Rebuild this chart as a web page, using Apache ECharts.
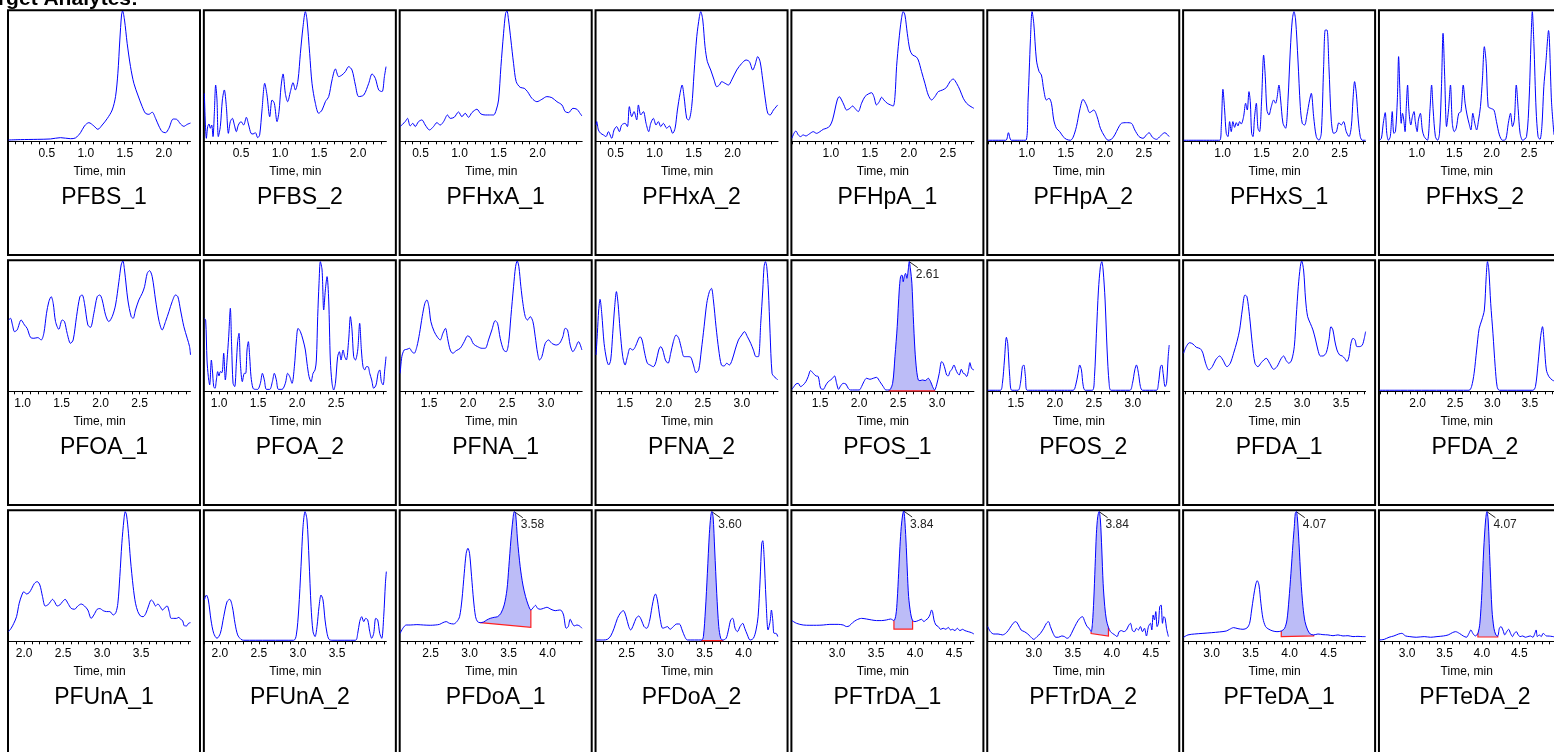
<!DOCTYPE html>
<html><head><meta charset="utf-8">
<script src="https://cdn.jsdelivr.net/npm/echarts@6/dist/echarts.min.js"></script>
<style>html,body{margin:0;padding:0;background:#fff;overflow:hidden}#c{width:1554px;height:752px}</style>
</head><body><div id="c"></div>
<script>
const names = ['PFBS_1','PFBS_2','PFHxA_1','PFHxA_2','PFHpA_1','PFHpA_2','PFHxS_1','PFHxS_2',
  'PFOA_1','PFOA_2','PFNA_1','PFNA_2','PFOS_1','PFOS_2','PFDA_1','PFDA_2',
  'PFUnA_1','PFUnA_2','PFDoA_1','PFDoA_2','PFTrDA_1','PFTrDA_2','PFTeDA_1','PFTeDA_2'];
const xMin = [0.01,0.03,0.24,0.25,0.50,0.50,0.50,0.50, 0.82,0.81,1.13,1.13,1.14,1.14,1.48,1.49, 1.80,1.80,2.11,2.11,2.42,2.41,2.64,2.63];
const xMax = [2.343,2.363,2.573,2.583,2.833,2.833,2.833,2.833, 3.153,3.143,3.463,3.463,3.473,3.473,3.813,3.823, 4.133,4.133,4.443,4.443,4.753,4.743,4.973,4.963];
const tickLabels = [
  [0.5,1.0,1.5,2.0],[0.5,1.0,1.5,2.0],[0.5,1.0,1.5,2.0],[0.5,1.0,1.5,2.0],
  [1.0,1.5,2.0,2.5],[1.0,1.5,2.0,2.5],[1.0,1.5,2.0,2.5],[1.0,1.5,2.0,2.5],
  [1.0,1.5,2.0,2.5],[1.0,1.5,2.0,2.5],[1.5,2.0,2.5,3.0],[1.5,2.0,2.5,3.0],
  [1.5,2.0,2.5,3.0],[1.5,2.0,2.5,3.0],[2.0,2.5,3.0,3.5],[2.0,2.5,3.0,3.5],
  [2.0,2.5,3.0,3.5],[2.0,2.5,3.0,3.5],[2.5,3.0,3.5,4.0],[2.5,3.0,3.5,4.0],
  [3.0,3.5,4.0,4.5],[3.0,3.5,4.0,4.5],[3.0,3.5,4.0,4.5],[3.0,3.5,4.0,4.5]];

const PFBS_1 = [[0.01,1],[0.164,1.3],[0.378,1.5],[0.548,1.8],[0.677,2.8],[0.805,2],[0.869,2.6],[0.933,6.6],[0.984,11.8],[1.04,14.3],[1.104,11.8],[1.155,9.2],[1.211,12.5],[1.275,17.4],[1.339,24],[1.382,34.3],[1.412,52.2],[1.437,77.7],[1.459,96.9],[1.472,100],[1.497,93.1],[1.531,75.2],[1.574,57.3],[1.617,44.5],[1.668,35.5],[1.724,26.6],[1.766,21.5],[1.809,20.7],[1.852,22.3],[1.895,17.6],[1.937,11.8],[1.98,7.4],[2.023,6.6],[2.066,10],[2.121,17.1],[2.164,16.9],[2.215,13.3],[2.258,11.5],[2.301,13],[2.343,14]];
const PFBS_2 = [[0.03,36.8],[0.056,2.3],[0.073,11.3],[0.09,13.3],[0.107,10],[0.124,12.5],[0.141,3.6],[0.158,21.5],[0.175,43.2],[0.192,31.7],[0.209,3.6],[0.235,11.3],[0.261,31.7],[0.286,39.4],[0.312,26.6],[0.338,6.1],[0.363,15.1],[0.389,17.6],[0.415,12.5],[0.44,7.4],[0.466,12.5],[0.5,15.1],[0.534,12.5],[0.568,18.4],[0.598,12.5],[0.628,6.1],[0.654,5.6],[0.684,6.6],[0.714,2.8],[0.739,4.9],[0.769,24],[0.804,44.5],[0.833,35.5],[0.868,18.9],[0.898,31.7],[0.927,29.2],[0.962,15.1],[0.987,22.8],[1.013,41.9],[1.039,51.7],[1.068,36.8],[1.098,30.4],[1.133,38.1],[1.167,45],[1.197,39.4],[1.231,47.1],[1.261,67.5],[1.295,88],[1.325,99.5],[1.346,93.1],[1.38,67.5],[1.41,44.5],[1.453,29.2],[1.496,21.5],[1.539,24],[1.581,30.4],[1.624,34.3],[1.667,47.1],[1.71,55.5],[1.752,49.6],[1.795,50.9],[1.838,53.5],[1.88,57.3],[1.923,54.7],[1.966,43.2],[2.009,34.3],[2.073,35.5],[2.137,44.5],[2.18,51.7],[2.222,48.3],[2.265,39.4],[2.308,38.1],[2.338,49.6],[2.359,57.3]];
const PFHxA_1 = [[0.24,11.3],[0.274,13.3],[0.304,15.1],[0.334,17.6],[0.368,11.8],[0.402,13.8],[0.432,11.3],[0.475,15.1],[0.518,16.4],[0.561,12.5],[0.616,8.7],[0.667,11.3],[0.71,14.3],[0.753,12.5],[0.796,15.1],[0.847,20.2],[0.881,17.6],[0.932,18.4],[0.988,22.5],[1.031,18.9],[1.073,21.5],[1.116,18.4],[1.159,22],[1.223,24.6],[1.274,21],[1.33,20.2],[1.385,20.2],[1.437,20.2],[1.471,24],[1.501,31.7],[1.531,57.3],[1.565,82.9],[1.591,98.2],[1.608,100],[1.629,93.1],[1.659,77.7],[1.693,59.8],[1.727,45.8],[1.778,41.4],[1.83,40.7],[1.872,38.1],[1.928,33],[1.992,30.4],[2.056,32.2],[2.12,34.3],[2.184,33.5],[2.249,30.4],[2.313,27.9],[2.355,22.8],[2.398,22],[2.454,25.3],[2.505,24.6],[2.539,22],[2.569,19.4]];
const PFHxA_2 = [[0.25,12.5],[0.259,15.1],[0.28,8.7],[0.31,6.1],[0.344,4.9],[0.378,3.6],[0.408,7.4],[0.451,2.3],[0.481,8.7],[0.515,11.3],[0.549,7.4],[0.579,12.5],[0.622,13.8],[0.652,11.3],[0.677,26.6],[0.707,18.9],[0.737,22.8],[0.771,16.4],[0.793,27.9],[0.823,20.2],[0.857,22.8],[0.891,13.8],[0.925,7.4],[0.951,13.8],[0.985,17.6],[1.019,12.5],[1.049,15.1],[1.079,11.3],[1.113,13.8],[1.156,10],[1.19,11.8],[1.233,6.1],[1.263,10],[1.293,24],[1.327,36.8],[1.353,43.2],[1.378,34.3],[1.412,17.6],[1.438,16.4],[1.476,26.6],[1.506,52.2],[1.541,80.3],[1.575,95.7],[1.592,99.5],[1.618,93.1],[1.647,72.6],[1.677,61.1],[1.72,54.7],[1.763,47.1],[1.797,41.9],[1.831,43.2],[1.861,45.8],[1.904,44.5],[1.947,43.2],[1.989,47.1],[2.053,54.7],[2.118,59.8],[2.173,62.4],[2.216,61.1],[2.259,54.7],[2.288,58.6],[2.323,65],[2.353,61.1],[2.387,47.1],[2.421,31.7],[2.451,21.5],[2.481,20.2],[2.524,24],[2.579,27.9]];
const PFHpA_1 = [[0.5,2.3],[0.526,6.1],[0.551,7.9],[0.581,4.9],[0.611,3.6],[0.645,4.9],[0.679,4.1],[0.722,5.6],[0.774,7.4],[0.816,6.1],[0.859,7.4],[0.902,9.2],[0.944,10],[0.987,11.8],[1.021,16.4],[1.051,24],[1.081,31.7],[1.107,34.3],[1.137,31.7],[1.167,27.9],[1.201,24],[1.244,25.3],[1.278,27.1],[1.308,25.3],[1.35,22.8],[1.393,29.2],[1.436,34.3],[1.479,36.3],[1.521,37.3],[1.551,34.3],[1.585,27.9],[1.62,30.4],[1.65,33.8],[1.679,31.7],[1.722,29.2],[1.765,27.9],[1.799,27.1],[1.821,34.3],[1.842,57.3],[1.872,77.7],[1.902,93.1],[1.927,99.5],[1.949,96.9],[1.979,82.9],[2.013,70.1],[2.047,66.2],[2.09,65],[2.12,62.4],[2.162,53.5],[2.205,44.5],[2.248,35.5],[2.291,31.7],[2.333,34.3],[2.376,38.1],[2.432,39.4],[2.483,41.4],[2.526,45.8],[2.568,47.8],[2.611,44.5],[2.654,39.4],[2.697,33],[2.739,29.2],[2.782,27.1],[2.833,25.3]];
const PFHpA_2 = [[0.5,0.8],[0.731,0.8],[0.765,6.6],[0.803,0.8],[0.987,0.8],[1.017,31.7],[1.047,77.7],[1.068,99.5],[1.09,90.5],[1.124,62.4],[1.158,53.5],[1.188,50.9],[1.218,39.4],[1.252,31.7],[1.286,33],[1.316,29.2],[1.346,16.4],[1.38,10],[1.423,7.4],[1.466,3.6],[1.509,1.5],[1.56,0.8],[1.594,3.1],[1.637,11.3],[1.679,24],[1.722,32.2],[1.765,27.9],[1.808,22],[1.859,24],[1.902,18.9],[1.944,10],[2.0,3.6],[2.043,0.8],[2.085,1.5],[2.128,4.9],[2.171,10],[2.214,13.8],[2.278,14.3],[2.342,13.8],[2.385,8.7],[2.44,3.6],[2.491,2.3],[2.534,4.9],[2.568,6.6],[2.611,3.1],[2.662,1.5],[2.714,4.1],[2.769,6.6],[2.825,3.6]];
const PFHxS_1 = [[0.5,0.8],[0.962,0.8],[0.983,11.3],[1.004,39.9],[1.026,24],[1.047,6.1],[1.068,3.6],[1.09,15.1],[1.111,7.4],[1.132,15.1],[1.154,10.7],[1.175,14.3],[1.197,11.8],[1.218,15.1],[1.239,13.3],[1.269,18.9],[1.295,29.2],[1.316,24],[1.338,38.1],[1.355,30.4],[1.372,6.1],[1.389,3.6],[1.41,18.9],[1.432,29.2],[1.453,10],[1.474,7.4],[1.5,31.7],[1.526,66.2],[1.547,49.6],[1.568,24],[1.594,20.2],[1.624,26.6],[1.654,31.7],[1.679,29.2],[1.697,33],[1.722,43.2],[1.744,31.7],[1.774,13.8],[1.808,10],[1.838,31.7],[1.868,70.1],[1.893,93.1],[1.915,99.5],[1.936,93.1],[1.966,62.4],[1.996,26.6],[2.021,13.8],[2.051,12.5],[2.081,20.2],[2.115,31.7],[2.137,36.8],[2.167,18.9],[2.201,3.6],[2.235,0.8],[2.265,6.1],[2.295,57.3],[2.316,85.4],[2.338,85.4],[2.363,57.3],[2.393,16.4],[2.423,6.1],[2.457,7.2],[2.491,14.3],[2.521,12.5],[2.551,15.1],[2.585,7.4],[2.62,3.6],[2.65,11.3],[2.671,31.7],[2.692,45.8],[2.714,36.8],[2.739,16.4],[2.765,3.6],[2.791,0.8],[2.833,0.8]];
const PFHxS_2 = [[0.5,0.8],[0.526,2.3],[0.551,13.8],[0.577,22],[0.598,6.1],[0.62,0.8],[0.645,3.6],[0.671,22.8],[0.692,6.1],[0.714,7.4],[0.739,31.7],[0.756,65],[0.774,36.8],[0.791,13.8],[0.808,21.5],[0.825,16.4],[0.842,7.4],[0.859,26.6],[0.876,43.2],[0.893,24],[0.919,12.5],[0.94,18.9],[0.962,22.8],[0.979,15.1],[1.004,7.4],[1.021,16.4],[1.047,21.5],[1.073,8.7],[1.098,3.6],[1.141,0.8],[1.175,24],[1.197,43.2],[1.218,24],[1.248,3.6],[1.278,0.8],[1.303,6.1],[1.329,41.9],[1.35,82.9],[1.372,49.6],[1.397,11.3],[1.423,24],[1.449,43.2],[1.474,13.8],[1.5,7.4],[1.526,10],[1.56,21.5],[1.59,22.8],[1.62,43.2],[1.645,29.2],[1.671,20.2],[1.697,13.8],[1.722,8.7],[1.748,21.5],[1.774,13.8],[1.799,8.7],[1.825,16.4],[1.85,26.6],[1.876,47.1],[1.902,72.6],[1.927,59.8],[1.953,26.6],[1.987,25.3],[2.03,24],[2.064,15.1],[2.103,4.9],[2.145,0.8],[2.188,1.5],[2.222,13.8],[2.252,21.5],[2.278,11.3],[2.303,16.4],[2.329,43.2],[2.355,24],[2.38,6.1],[2.415,0.8],[2.466,3.6],[2.5,31.7],[2.526,77.7],[2.543,99.5],[2.564,75.2],[2.594,24],[2.62,3.6],[2.645,1.5],[2.671,11.3],[2.697,41.9],[2.722,58.6],[2.76,85],[2.8,30],[2.833,5]];
const PFOA_1 = [[0.82,54.7],[0.846,56],[0.871,50.9],[0.897,45.8],[0.931,47.1],[0.982,54.7],[1.025,50.9],[1.059,48.3],[1.102,41.4],[1.145,40.7],[1.196,41.2],[1.239,39.4],[1.273,44.5],[1.307,59.8],[1.337,68.8],[1.367,72.6],[1.393,67.5],[1.423,53.5],[1.465,47.6],[1.508,54.7],[1.538,53.5],[1.572,44.5],[1.615,36.8],[1.649,39.4],[1.692,57.3],[1.735,72.6],[1.764,73.9],[1.794,67.5],[1.837,50.9],[1.871,49.1],[1.914,59.8],[1.957,72.6],[1.991,73.9],[2.021,70.1],[2.064,58.6],[2.106,53.5],[2.149,57.3],[2.192,66.2],[2.235,84.1],[2.264,96.9],[2.286,100],[2.307,93.1],[2.35,70.1],[2.393,57.3],[2.418,56],[2.448,62.4],[2.491,70.1],[2.534,75.2],[2.564,80.3],[2.598,90.5],[2.628,92.6],[2.662,88],[2.705,70.1],[2.747,54.7],[2.79,47.1],[2.833,53.5],[2.876,61.1],[2.918,68.8],[2.961,73.9],[2.991,72.6],[3.025,62.4],[3.068,49.6],[3.111,40.7],[3.141,34.3],[3.153,27.9]];
const PFOA_2 = [[0.81,56],[0.827,54.7],[0.844,24],[0.861,11.3],[0.878,4.9],[0.9,24],[0.913,16.4],[0.93,3.6],[0.947,2.3],[0.964,8.7],[0.981,15.1],[0.998,11.8],[1.015,15.1],[1.036,14.3],[1.058,29.2],[1.079,8.7],[1.101,24],[1.122,41.9],[1.143,63.7],[1.16,34.3],[1.178,6.1],[1.199,3.6],[1.22,21.5],[1.237,38.1],[1.254,44.5],[1.272,21.5],[1.297,7.4],[1.323,13.8],[1.34,13.8],[1.357,31.7],[1.374,38.1],[1.391,26.6],[1.408,11.3],[1.434,2.3],[1.464,1.5],[1.494,1.5],[1.528,6.1],[1.554,13.8],[1.579,8.7],[1.605,1.5],[1.648,1.5],[1.682,7.4],[1.707,13.8],[1.733,8.7],[1.759,1.5],[1.806,1.5],[1.848,6.1],[1.878,13.8],[1.904,11.3],[1.934,6.1],[1.964,18.9],[1.99,39.4],[2.011,48.3],[2.041,45.8],[2.075,39.4],[2.105,31.7],[2.126,21.5],[2.152,11.3],[2.178,7.4],[2.203,13.8],[2.229,16.4],[2.246,24],[2.263,57.3],[2.28,82.9],[2.297,99.5],[2.319,93.1],[2.34,62.4],[2.361,77.7],[2.383,88],[2.404,70.1],[2.425,24],[2.447,6.1],[2.468,1],[2.49,6.1],[2.519,26.6],[2.541,30.4],[2.562,24],[2.588,31.7],[2.609,26.6],[2.63,24],[2.66,39.4],[2.682,57.3],[2.703,47.1],[2.724,26.6],[2.746,24],[2.776,31.7],[2.801,52.2],[2.823,31.7],[2.844,18.9],[2.866,16.4],[2.887,18.9],[2.908,18.9],[2.93,13.8],[2.955,8.7],[2.981,2.3],[3.011,4.9],[3.037,13.8],[3.058,16.4],[3.079,7.4],[3.101,4.9],[3.122,16.4],[3.139,26.6]];
const PFNA_1 = [[1.13,13.8],[1.151,26.6],[1.181,31.7],[1.215,32.2],[1.25,33],[1.28,30.4],[1.309,29.2],[1.344,34.3],[1.378,44.5],[1.412,57.3],[1.446,67.5],[1.472,70.1],[1.498,65],[1.523,53.5],[1.566,45.8],[1.609,41.4],[1.643,39.4],[1.677,44.5],[1.711,48.3],[1.737,40.7],[1.771,31.7],[1.805,29.2],[1.848,31.2],[1.899,33],[1.951,38.1],[1.993,42.5],[2.027,41.4],[2.07,36.3],[2.121,34.3],[2.177,33],[2.22,33],[2.262,39.4],[2.305,47.1],[2.348,54.2],[2.378,52.2],[2.412,40.7],[2.455,31.7],[2.489,30.4],[2.519,36.8],[2.549,57.3],[2.583,80.3],[2.609,95.7],[2.63,100],[2.651,95.7],[2.677,80.3],[2.703,67.5],[2.733,57.3],[2.762,54.7],[2.797,57.3],[2.831,53.5],[2.861,41.9],[2.891,29.2],[2.916,24],[2.946,26.6],[2.989,36.8],[3.032,39.4],[3.074,36.8],[3.13,35.5],[3.173,36.8],[3.215,41.9],[3.245,48.3],[3.275,47.1],[3.309,35.5],[3.344,30.4],[3.374,33],[3.416,38.1],[3.459,31.7]];
const PFNA_2 = [[1.13,27.9],[1.147,44.5],[1.164,62.4],[1.181,70.6],[1.203,59.8],[1.233,36.8],[1.267,24],[1.292,20.2],[1.318,24],[1.344,44.5],[1.369,65],[1.391,76.5],[1.412,67.5],[1.438,47.1],[1.472,26.6],[1.502,20.2],[1.532,26.6],[1.566,33],[1.6,31.7],[1.634,34.3],[1.668,39.4],[1.694,41.9],[1.72,39.4],[1.754,29.2],[1.788,21.5],[1.822,20.2],[1.865,18.9],[1.899,22.8],[1.933,31.7],[1.959,34.3],[1.985,31.7],[2.019,24],[2.053,21.5],[2.087,29.2],[2.121,38.1],[2.156,43.2],[2.19,40.7],[2.224,33],[2.258,26.6],[2.301,26.6],[2.344,26.1],[2.378,20.2],[2.412,14.3],[2.446,16.4],[2.48,31.7],[2.515,49.6],[2.549,67.5],[2.583,76.5],[2.609,79],[2.634,70.1],[2.668,49.6],[2.703,31.7],[2.737,20.2],[2.771,19.4],[2.805,21.5],[2.839,20.2],[2.874,24],[2.912,31.7],[2.955,39.4],[2.998,43.2],[3.032,45.8],[3.07,41.9],[3.113,36.8],[3.147,31.7],[3.181,26.6],[3.211,26.6],[3.241,52.2],[3.267,77.7],[3.284,95.7],[3.301,99.5],[3.318,95.7],[3.339,77.7],[3.361,44.5],[3.386,13.8],[3.412,11.3],[3.438,10],[3.459,8.7]];
const PFOS_1 = [[1.14,1.5],[1.166,3.6],[1.191,5.6],[1.221,6.1],[1.251,3.6],[1.285,4.9],[1.319,7.4],[1.349,11.3],[1.379,15.9],[1.414,13.8],[1.448,11.8],[1.478,11.3],[1.508,2.3],[1.542,1.5],[1.576,4.9],[1.606,7.4],[1.636,8.7],[1.661,10],[1.687,11.8],[1.713,6.1],[1.738,1.5],[1.764,4.1],[1.798,6.1],[1.832,5.6],[1.862,2.3],[1.892,1],[1.948,1],[2.003,1],[2.033,3.6],[2.063,7.4],[2.097,10],[2.14,9.2],[2.183,10],[2.225,10.7],[2.268,7.4],[2.311,3.6],[2.345,1],[2.388,1],[2.431,6.1],[2.461,26.6],[2.49,49.6],[2.516,77.7],[2.533,88],[2.55,89.3],[2.567,84.1],[2.58,88],[2.597,90.5],[2.614,86.7],[2.631,93.1],[2.644,99.5],[2.661,93.1],[2.678,82.9],[2.696,57.3],[2.717,31.7],[2.738,16.4],[2.76,8.7],[2.781,8.2],[2.815,8.7],[2.849,8.2],[2.888,10],[2.918,7.4],[2.943,3.6],[2.969,1],[2.995,4.9],[3.029,13.8],[3.059,22.8],[3.08,21.5],[3.106,16.4],[3.123,12.5],[3.144,11.8],[3.166,15.1],[3.191,16.9],[3.217,20.2],[3.243,16.4],[3.264,13.8],[3.285,12.5],[3.311,16.9],[3.337,13.8],[3.358,13.3],[3.379,11.3],[3.401,15.1],[3.422,22],[3.443,17.6],[3.473,16.4]];
const PFOS_2 = [[1.14,0.8],[1.302,0.8],[1.328,6.1],[1.354,24],[1.379,41.4],[1.396,36.8],[1.422,11.3],[1.448,0.8],[1.529,0.8],[1.559,6.1],[1.584,18.9],[1.602,20.2],[1.623,11.3],[1.644,0.8],[2.234,0.8],[2.268,4.9],[2.298,13.8],[2.319,20.2],[2.341,16.4],[2.362,4.9],[2.388,0.8],[2.482,0.8],[2.508,11.3],[2.533,44.5],[2.559,77.7],[2.584,95.7],[2.602,99.5],[2.619,93.1],[2.644,70.1],[2.67,31.7],[2.696,6.1],[2.721,0.8],[2.961,0.8],[2.995,6.1],[3.025,16.4],[3.046,20.2],[3.072,13.8],[3.097,3.6],[3.123,0.8],[3.302,0.8],[3.328,6.1],[3.354,18.9],[3.371,20.2],[3.388,13.8],[3.414,3.6],[3.432,6.1],[3.453,26.6],[3.466,35.5]];
const PFDA_1 = [[1.48,29.2],[1.514,34.3],[1.557,37.3],[1.6,36.3],[1.642,33.8],[1.694,32.7],[1.728,29.2],[1.762,21.5],[1.805,16.4],[1.848,18.9],[1.89,24],[1.942,27.1],[1.984,24],[2.036,18.9],[2.078,21.5],[2.121,29.2],[2.164,38.1],[2.198,47.1],[2.232,62.4],[2.266,73.9],[2.292,72.6],[2.326,57.3],[2.36,36.8],[2.395,21.5],[2.433,18.9],[2.476,22],[2.54,25.3],[2.583,21.5],[2.634,16.9],[2.677,18.9],[2.732,25.3],[2.762,27.1],[2.796,23.5],[2.83,21.5],[2.865,24],[2.899,34.3],[2.924,57.3],[2.95,80.3],[2.976,95.7],[2.993,100],[3.018,93.1],[3.044,70.1],[3.07,57.3],[3.104,52.2],[3.138,47.1],[3.172,39.4],[3.202,31.7],[3.232,27.1],[3.266,27.1],[3.309,29.7],[3.343,39.4],[3.369,49.6],[3.394,47.1],[3.416,39.4],[3.446,31.7],[3.48,27.9],[3.514,27.1],[3.544,25.3],[3.574,22.8],[3.6,26.6],[3.625,36.8],[3.651,40.7],[3.677,39.4],[3.702,34.3],[3.736,34.3],[3.771,35.5],[3.796,40.7],[3.813,45.8]];
const PFDA_2 = [[1.49,0.8],[2.687,0.8],[2.721,3.6],[2.755,13.8],[2.789,31.7],[2.823,48.3],[2.858,54.7],[2.892,62.4],[2.917,88],[2.934,99.5],[2.952,93.1],[2.977,67.5],[3.007,44.5],[3.037,18.9],[3.063,3.6],[3.093,0.8],[3.541,0.8],[3.575,3.6],[3.61,21.5],[3.644,41.9],[3.669,49.6],[3.695,34.3],[3.721,16.4],[3.755,11.3],[3.798,8.7],[3.823,8]];
const PFUnA_1 = [[1.8,7.4],[1.834,10],[1.868,13.8],[1.903,18.9],[1.937,29.2],[1.971,35.5],[1.997,38.1],[2.031,36.3],[2.065,37.3],[2.099,40.7],[2.133,44.5],[2.168,45.8],[2.202,43.2],[2.236,34.3],[2.27,27.1],[2.304,27.9],[2.338,30.4],[2.364,32.2],[2.39,30.4],[2.424,27.1],[2.458,27.9],[2.492,30.4],[2.526,32.2],[2.561,29.2],[2.603,25.3],[2.646,24.6],[2.689,27.1],[2.732,28.6],[2.774,27.1],[2.817,24],[2.86,17.6],[2.894,20.2],[2.937,24.6],[2.971,25.1],[3.014,23.5],[3.056,22.8],[3.099,22.8],[3.142,20.2],[3.176,22],[3.202,29.2],[3.227,49.6],[3.253,75.2],[3.279,93.1],[3.296,99.5],[3.313,96.9],[3.338,82.9],[3.364,62.4],[3.398,41.9],[3.428,29.2],[3.458,22.8],[3.492,19.4],[3.526,18.9],[3.561,21.5],[3.595,27.1],[3.629,31.7],[3.655,30.4],[3.685,27.1],[3.715,28.6],[3.749,26.1],[3.774,24],[3.809,26.1],[3.834,27.1],[3.86,22.8],[3.885,17.6],[3.92,17.6],[3.954,17.6],[3.984,18.4],[4.005,16.9],[4.031,15.9],[4.056,11.8],[4.082,11.8],[4.108,13.8],[4.133,14.3]];
const PFUnA_2 = [[1.8,31.7],[1.826,35.5],[1.851,31.7],[1.885,16.4],[1.92,6.1],[1.962,2.3],[2.005,6.1],[2.048,18.9],[2.091,30.4],[2.125,32.2],[2.159,26.6],[2.193,13.8],[2.227,4.9],[2.27,1.5],[2.304,0.8],[2.945,0.8],[2.979,4.9],[3.009,24],[3.039,57.3],[3.065,88],[3.091,99.5],[3.116,93.1],[3.142,62.4],[3.168,26.6],[3.193,7.4],[3.219,3.6],[3.244,11.3],[3.27,26.6],[3.296,35.5],[3.321,31.7],[3.347,16.4],[3.373,6.1],[3.398,1.5],[3.437,0.8],[3.736,0.8],[3.766,6.1],[3.791,15.1],[3.817,18.9],[3.843,15.1],[3.868,17.6],[3.894,16.4],[3.92,7.4],[3.945,2.3],[3.971,6.1],[3.997,17.6],[4.022,16.4],[4.048,6.1],[4.074,2.3],[4.099,18.9],[4.121,44.5],[4.133,53.5]];
const PFDoA_1 = [[2.11,6.1],[2.144,10],[2.187,12.5],[2.238,12.5],[2.324,12.8],[2.409,12.5],[2.495,12.3],[2.559,12.5],[2.614,13],[2.657,14.3],[2.7,15.1],[2.742,13.8],[2.794,13.3],[2.836,15.1],[2.871,18.9],[2.901,31.7],[2.931,52.2],[2.956,67.5],[2.978,71.4],[2.999,67.5],[3.025,49.6],[3.05,31.7],[3.076,18.9],[3.101,15.1],[3.136,14.3],[3.178,14.8],[3.221,16.4],[3.264,17.6],[3.315,18.4],[3.358,18.9],[3.401,21.5],[3.443,27.9],[3.478,39.4],[3.503,57.3],[3.529,77.7],[3.554,93.1],[3.572,99.5],[3.589,98.2],[3.614,77.7],[3.648,57.3],[3.683,43.2],[3.717,34.3],[3.751,27.9],[3.785,24],[3.819,26.1],[3.845,27.6],[3.871,25.3],[3.905,24.6],[3.948,25.3],[3.99,26.1],[4.042,24.6],[4.097,23.5],[4.153,24],[4.178,23.5],[4.204,20.2],[4.238,10],[4.264,11.3],[4.289,16.9],[4.315,13.8],[4.341,11.8],[4.375,12.5],[4.409,11.8],[4.439,10]];
const PFDoA_2 = [[2.11,1],[2.204,1],[2.255,1.5],[2.298,4.1],[2.341,10],[2.384,17.6],[2.426,22],[2.46,23.5],[2.495,18.9],[2.529,11.3],[2.554,8.7],[2.589,12.5],[2.623,17.6],[2.657,19.4],[2.691,16.4],[2.725,11.3],[2.76,10],[2.794,15.1],[2.828,26.6],[2.854,34.3],[2.871,36.3],[2.896,31.7],[2.931,17.6],[2.965,10],[2.999,10.7],[3.025,11.3],[3.059,9.2],[3.101,11.3],[3.144,13.3],[3.178,13.3],[3.213,8.7],[3.247,3.6],[3.281,1],[3.465,1],[3.486,3.6],[3.512,24],[3.537,52.2],[3.563,82.9],[3.58,95.7],[3.593,99.5],[3.61,95.7],[3.631,70.1],[3.657,36.8],[3.683,11.3],[3.708,2.3],[3.734,1],[3.777,2.3],[3.807,8.7],[3.836,16.4],[3.862,17.6],[3.892,10],[3.922,7.4],[3.956,11.3],[3.99,13.8],[4.016,10],[4.05,4.9],[4.084,1],[4.127,2.3],[4.161,8.7],[4.187,18.9],[4.213,47.1],[4.234,75.2],[4.247,77.2],[4.264,65],[4.289,31.7],[4.315,8.7],[4.341,15.1],[4.358,24],[4.375,16.4],[4.392,6.1],[4.418,6.1],[4.439,3.6]];
const PFTrDA_1 = [[2.42,15.9],[2.48,13.8],[2.565,12.5],[2.651,12.3],[2.736,12.3],[2.822,12.5],[2.907,13],[3.014,13],[3.078,12.5],[3.121,11.3],[3.155,11.8],[3.198,14.3],[3.249,16.4],[3.313,17.6],[3.377,17.1],[3.441,16.4],[3.505,15.9],[3.57,15.9],[3.634,16.4],[3.685,17.1],[3.728,15.9],[3.753,20.2],[3.77,31.7],[3.788,52.2],[3.805,72.6],[3.822,88],[3.839,96.9],[3.852,100],[3.864,95.7],[3.882,77.7],[3.899,54.7],[3.916,34.3],[3.942,21.5],[3.967,15.9],[3.997,15.1],[4.04,15.9],[4.082,16.9],[4.112,15.1],[4.138,16.4],[4.164,17.6],[4.189,20.2],[4.211,24],[4.223,22.8],[4.241,16.4],[4.266,12.5],[4.296,11.3],[4.326,9.2],[4.36,10],[4.394,9.2],[4.424,10.7],[4.454,8.7],[4.48,9.2],[4.51,8.2],[4.54,10],[4.574,8.2],[4.608,9.2],[4.638,8.2],[4.681,7.4],[4.723,6.6],[4.753,5.6]];
const PFTrDA_2 = [[2.41,11.3],[2.444,7.4],[2.487,5.6],[2.542,5.6],[2.598,4.9],[2.649,6.6],[2.692,10],[2.735,13.8],[2.769,15.1],[2.803,12.5],[2.837,8.7],[2.88,7.4],[2.923,5.6],[2.957,3.6],[3.0,1.5],[3.042,3.6],[3.085,6.1],[3.128,10],[3.162,13.8],[3.188,15.1],[3.213,11.3],[3.248,6.1],[3.282,3.1],[3.316,3.1],[3.359,4.1],[3.393,3.6],[3.427,2.3],[3.461,3.6],[3.504,8.7],[3.547,13.8],[3.589,17.6],[3.624,18.9],[3.654,15.1],[3.683,11.3],[3.709,10],[3.735,7.4],[3.752,13.8],[3.769,31.7],[3.786,57.3],[3.803,82.9],[3.82,95.7],[3.837,99.5],[3.854,93.1],[3.872,70.1],[3.889,44.5],[3.91,26.6],[3.931,16.4],[3.957,10.7],[3.983,7.4],[4.008,6.1],[4.038,4.9],[4.068,3.6],[4.094,7.4],[4.124,8.2],[4.154,7.4],[4.188,8.7],[4.213,11.8],[4.239,13.8],[4.265,8.2],[4.29,7.4],[4.316,10],[4.342,8.7],[4.367,11.3],[4.393,7.4],[4.419,10],[4.444,4.1],[4.47,11.3],[4.495,13.8],[4.513,8.7],[4.53,20.2],[4.547,16.4],[4.564,22.8],[4.581,11.3],[4.598,13.8],[4.615,26.6],[4.632,27.9],[4.65,13.8],[4.667,18.9],[4.684,17.6],[4.701,10],[4.726,3.6]];
const PFTeDA_1 = [[2.64,3.1],[2.696,4.9],[2.781,5.6],[2.888,6.1],[2.995,6.6],[3.102,7.2],[3.187,7.9],[3.23,9.2],[3.281,10.5],[3.337,9.7],[3.401,9.2],[3.452,10.2],[3.486,13.8],[3.512,24],[3.537,34.3],[3.563,43.2],[3.584,46.5],[3.606,43.2],[3.631,29.2],[3.657,17.6],[3.691,11.3],[3.734,9.2],[3.785,7.9],[3.837,7.4],[3.892,7.9],[3.935,10],[3.965,16.4],[3.99,31.7],[4.016,52.2],[4.042,75.2],[4.059,88],[4.072,98.2],[4.084,99.5],[4.097,95.7],[4.119,75.2],[4.144,47.1],[4.17,26.6],[4.196,15.1],[4.23,8.7],[4.264,5.6],[4.307,4.9],[4.362,5.6],[4.426,5.1],[4.49,4.9],[4.555,4.3],[4.619,4.9],[4.683,4.1],[4.747,4.3],[4.811,3.6],[4.875,3.8],[4.931,3.6],[4.973,3.6]];
const PFTeDA_2 = [[2.63,1],[2.694,1.5],[2.758,3.1],[2.822,4.1],[2.886,5.6],[2.929,6.1],[2.98,4.1],[3.036,3.6],[3.121,3.1],[3.228,3.6],[3.314,3.1],[3.399,3.6],[3.485,4.1],[3.549,4.9],[3.604,6.6],[3.647,7.4],[3.698,6.1],[3.75,4.1],[3.792,3.1],[3.827,6.1],[3.852,8.7],[3.878,6.1],[3.912,4.1],[3.946,6.1],[3.972,13.8],[3.998,36.8],[4.023,70.1],[4.049,93.1],[4.066,99.5],[4.083,93.1],[4.109,57.3],[4.134,24],[4.16,10],[4.186,4.9],[4.211,4.1],[4.233,10],[4.254,11.3],[4.28,8.7],[4.305,4.9],[4.331,7.4],[4.357,9.2],[4.382,6.1],[4.408,3.6],[4.433,6.1],[4.459,7.4],[4.485,4.9],[4.51,3.6],[4.545,4.1],[4.579,3.1],[4.613,3.6],[4.647,4.1],[4.681,3.1],[4.707,6.1],[4.724,8.7],[4.741,3.6],[4.767,4.9],[4.792,3.6],[4.818,6.1],[4.844,4.9],[4.861,4.1],[4.9,4],[4.963,3.5]];

const traces = [PFBS_1,PFBS_2,PFHxA_1,PFHxA_2,PFHpA_1,PFHpA_2,PFHxS_1,PFHxS_2,
  PFOA_1,PFOA_2,PFNA_1,PFNA_2,PFOS_1,PFOS_2,PFDA_1,PFDA_2,
  PFUnA_1,PFUnA_2,PFDoA_1,PFDoA_2,PFTrDA_1,PFTrDA_2,PFTeDA_1,PFTeDA_2];

// integrated peaks: panel, window start/end (min), baseline heights, RT label
const peakPanel = [12, 18, 19, 20, 21, 22, 23];
const peakFrom  = [2.388, 3.136, 3.465, 3.728, 3.735, 3.892, 3.946];
const peakTo    = [2.969, 3.785, 3.734, 3.967, 3.957, 4.307, 4.211];
const peakBase  = [[0.3,0.3],[14.3,10.7],[0.5,0.5],[9.4,9.4],[6,4],[3.6,4.1],[3.3,3.3]];
const peakRT    = ['2.61','3.58','3.60','3.84','3.84','4.07','4.07'];

const FONT = '"Liberation Sans", Arial, sans-serif';
const PITCH_X = 195.85, PITCH_Y = 250;
const FILL = 'rgba(95,95,235,0.42)';

const grids = [], xAxes = [], yAxes = [], series = [], graphics = [];

graphics.push({type:'text', x:-25, y:9.5, silent:true,
  style:{text:'Target Analytes:', fontSize:21, fontWeight:'bold', fontFamily:FONT, fill:'#000', align:'left', verticalAlign:'bottom'}});

for (let i = 0; i < 24; i++) {
  const r = Math.floor(i / 8), c = i % 8;
  const bx = 8 + PITCH_X * c, by = 10.3 + PITCH_Y * r;
  graphics.push({type:'rect', silent:true, shape:{x:bx, y:by, width:192, height:244.7},
    style:{fill:null, stroke:'#000', lineWidth:2}});
  graphics.push({type:'text', silent:true, x: bx + 96, y: 197.5 + PITCH_Y * r,
    style:{text:names[i], fontSize:23, fontFamily:FONT, fill:'#000', align:'center', verticalAlign:'middle'}});

  grids.push({left: bx + 0.5, top: 11 + PITCH_Y * r, width: 182, height: 130.3});
  const minor = [];
  for (let k = Math.ceil(xMin[i] * 10 - 1e-9); k / 10 <= xMax[i] + 1e-9; k++) minor.push(+(k / 10).toFixed(1));
  xAxes.push({gridIndex:i, type:'value', min:xMin[i], max:xMax[i],
    axisLine:{onZero:false, lineStyle:{color:'#000', width:1}},
    axisTick:{show:true, customValues:minor, length:3, lineStyle:{color:'#000', width:1}},
    axisLabel:{customValues:tickLabels[i], formatter:v => v.toFixed(1), fontSize:12, color:'#000', margin:6, fontFamily:FONT, hideOverlap:false},
    splitLine:{show:false},
    name:'Time, min', nameLocation:'middle', nameGap:24,
    nameTextStyle:{fontSize:12, color:'#000', fontFamily:FONT}});
  yAxes.push({gridIndex:i, type:'value', min:0, max:100, show:false});
  series.push({type:'line', xAxisIndex:i, yAxisIndex:i, data:traces[i], showSymbol:false, symbol:'none',
    smooth:0.3, lineStyle:{color:'#0000ff', width:1}, z:3, silent:true, animation:false});
}

peakPanel.forEach((p, j) => {
  const tr = traces[p];
  const win = tr.filter(pt => pt[0] >= peakFrom[j] - 1e-9 && pt[0] <= peakTo[j] + 1e-9);
  const first = win[0], last = win[win.length - 1];
  const apex = win.reduce((a, b) => b[1] > a[1] ? b : a);
  const base = peakBase[j], rt = peakRT[j];
  series.push({type:'custom', xAxisIndex:p, yAxisIndex:p, z:2, silent:true, animation:false, clip:false,
    data:[apex],
    renderItem: (params, api) => {
      const b1 = api.coord([first[0], base[0]]), b2 = api.coord([last[0], base[1]]);
      const poly = win.map(pt => api.coord(pt)).concat([b2, b1]);
      const a = api.coord(apex);
      return {type:'group', children:[
        {type:'polygon', shape:{points:poly}, style:{fill:FILL, stroke:null}},
        {type:'polyline', shape:{points:[api.coord(first), b1, b2, api.coord(last)]}, style:{stroke:'#ff2020', lineWidth:1.2, fill:null}},
        {type:'line', shape:{x1:a[0], y1:a[1], x2:a[0] + 8.5, y2:a[1] + 6}, style:{stroke:'#222', lineWidth:1}},
        {type:'text', style:{text:rt, x:a[0] + 6.5, y:a[1] + 13.5, fill:'#222', fontSize:12, fontFamily:FONT, align:'left', verticalAlign:'middle'}}
      ]};
    }});
});

const chart = echarts.init(document.getElementById('c'), null, {renderer:'canvas', width:1554, height:752});
chart.setOption({animation:false, backgroundColor:'#fff', grid:grids, xAxis:xAxes, yAxis:yAxes, series:series, graphic:{elements:graphics}});
</script>
</body></html>
